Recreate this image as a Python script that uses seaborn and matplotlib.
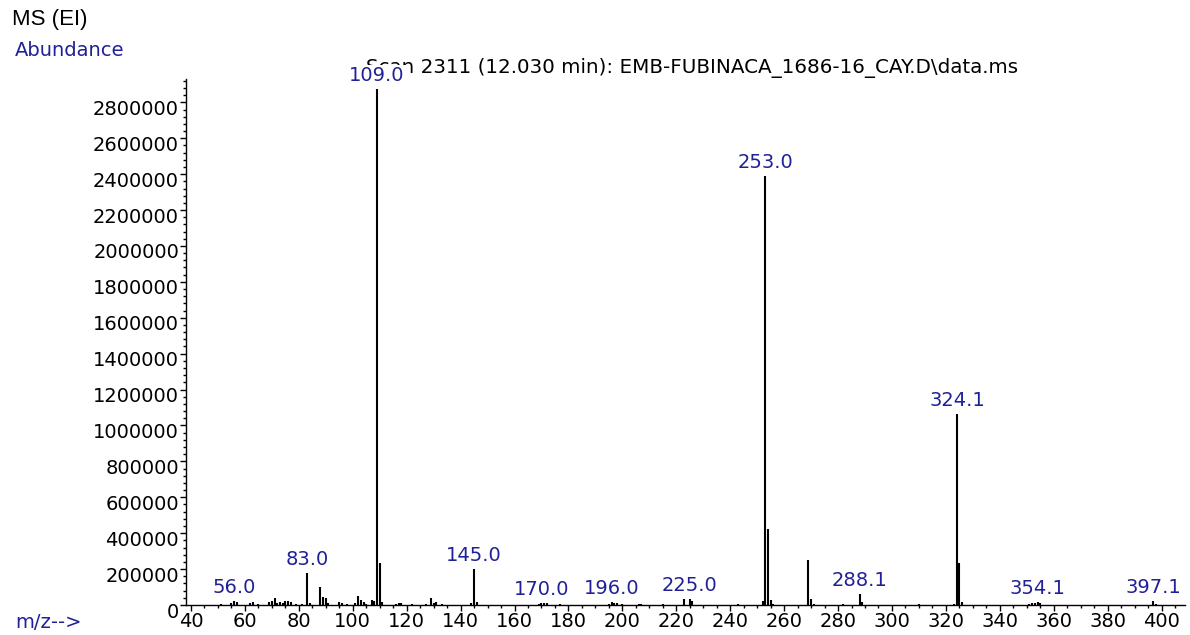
import numpy as np
import pandas as pd
import matplotlib
matplotlib.use("Agg")
import matplotlib.pyplot as plt
import matplotlib.transforms as mtrans
from matplotlib.ticker import MultipleLocator, FuncFormatter
import seaborn as sns

# Spektrum (m/z, Abundance)
mz = [51, 55, 56, 57, 62, 63, 65, 69, 70, 71, 72, 73, 74, 75, 76, 77, 79, 81,
      83, 84, 88, 89, 90, 91, 95, 96, 98, 101, 102, 103, 104, 105, 107, 108,
      109, 110, 111, 116, 117, 118, 122, 127, 129, 130, 131, 133, 144, 145,
      146, 169, 170, 171, 172, 177, 195, 196, 197, 198, 200, 206, 207, 215,
      223, 225, 226, 243, 252, 253, 254, 255, 256, 269, 270, 271, 282, 288,
      289, 310, 323, 324, 325, 326, 351, 352, 353, 354, 355, 397, 398]
abundance = [8000, 10000, 20000, 16000, 12000, 15000, 6000, 15000, 22000, 40000,
             12000, 18000, 12000, 20000, 20000, 18000, 8000, 6000,
             180000, 10000, 100000, 45000, 38000, 10000, 15000, 12000, 8000,
             10000, 48000, 28000, 18000, 8000, 30000, 20000,
             2877000, 235000, 15000, 6000, 12000, 10000, 7000, 5000, 40000,
             12000, 18000, 5000, 10000, 200000,
             16000, 6000, 12000, 12000, 10000, 8000, 8000, 15000, 13000, 10000,
             6000, 5000, 5000, 8000,
             32000, 35000, 25000, 5000, 20000, 2388000, 425000, 30000, 8000,
             250000, 35000, 8000, 5000, 62000,
             15000, 6000, 8000, 1063000, 235000, 15000, 6000, 10000, 12000,
             15000, 10000, 20000, 8000]

peak_labels = ["56.0", "83.0", "109.0", "145.0", "170.0", "196.0", "225.0",
               "253.0", "288.1", "324.1", "354.1", "397.1"]

x_ticks = list(range(40, 401, 20))
y_ticks = list(range(0, 2800001, 200000))

titel = "Scan 2311 (12.030 min): EMB-FUBINACA_1686-16_CAY.D\\data.ms"

df = pd.DataFrame({"mz": mz, "abundance": abundance})

sns.set_theme(style="ticks")
plt.rcParams["font.family"] = ["DejaVu Sans"]

blau = "#202098"
fs = 14

fig = plt.figure(figsize=(11.9, 6.35), dpi=100)
ax = fig.add_axes([186 / 1190, 30 / 635, 999 / 1190, 526 / 635])

ax.vlines(df["mz"], 0, df["abundance"], colors="black", lw=1.5)

ax.set_xlim(38.15, 408.7)
ax.set_ylim(0, 2.93e6)
ax.set_xticks(x_ticks)
ax.set_yticks(y_ticks)
ax.xaxis.set_minor_locator(MultipleLocator(5))
ax.yaxis.set_minor_locator(MultipleLocator(40000))
ax.yaxis.set_major_formatter(FuncFormatter(lambda v, p: f"{int(round(v))}"))
ax.tick_params(axis="both", which="major", direction="out", length=4, width=1,
               colors="black", labelsize=fs, pad=1)
ax.tick_params(axis="both", which="minor", direction="out", length=2.5, width=1,
               colors="black")
ax.set_xlabel("")
ax.set_ylabel("")
sns.despine(ax=ax)
for s in ["left", "bottom"]:
    ax.spines[s].set_color("black")
    ax.spines[s].set_linewidth(1.0)

# y-Beschriftungen sitzen im Original etwas unterhalb der Striche
verschub = mtrans.ScaledTranslation(0, -5 / 100, fig.dpi_scale_trans)
for lab in ax.get_yticklabels():
    lab.set_transform(lab.get_transform() + verschub)

# Titelzeile: im Original vom 109.0-Label teilweise verdeckt
ax.text(692 / 1190, 1 - 68 / 635, titel, transform=fig.transFigure,
        ha="center", va="center", fontsize=14.3, color="black", zorder=1)

# Peak-Beschriftungen
for lab in peak_labels:
    m = float(lab)
    i = int(np.argmin(np.abs(df["mz"] - m)))
    y = df["abundance"].iloc[i]
    ax.annotate(lab, (m, y), xytext=(0, 4), textcoords="offset pixels",
                ha="center", va="bottom", fontsize=fs, color=blau,
                annotation_clip=False, zorder=5,
                bbox=dict(boxstyle="square,pad=0.05", fc="white", ec="none"))

fig.text(12 / 1190, 1 - 20 / 635, "MS (EI)", ha="left", va="center",
         fontsize=16, color="black", family=["Liberation Sans", "DejaVu Sans"])
fig.text(15 / 1190, 1 - 50 / 635, "Abundance", ha="left", va="center",
         fontsize=fs, color=blau)
fig.text(15 / 1190, 1 - 622 / 635, "m/z-->", ha="left", va="center",
         fontsize=fs, color=blau)

fig.savefig("out.png", dpi=100)
